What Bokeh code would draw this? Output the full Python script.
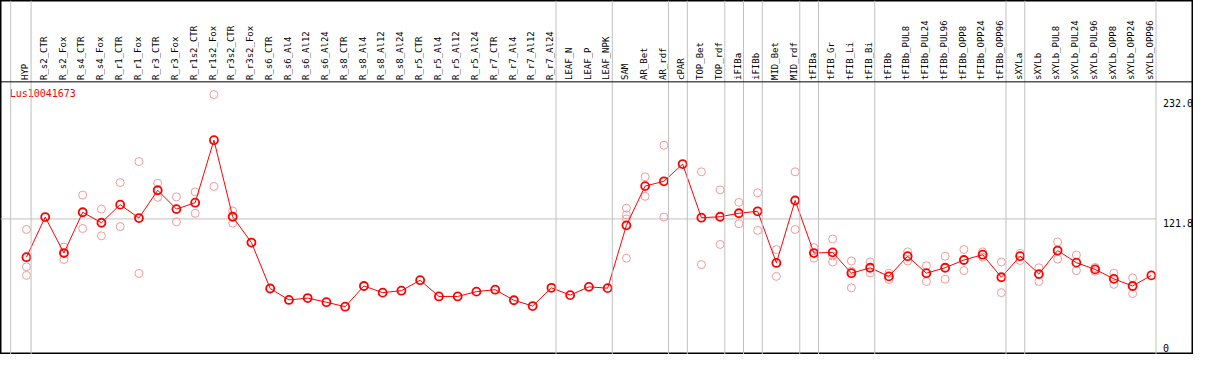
import math
from bokeh.plotting import figure
from bokeh.models import Range1d, Span, ColumnDataSource
from bokeh.core.properties import value
from bokeh.embed import file_html
from bokeh.resources import INLINE

# ---------------- data ----------------
gene_name = "Lus10041673"

categories = [
    "HYP", "R_s2_CTR", "R_s2_Fox", "R_s4_CTR", "R_s4_Fox", "R_r1_CTR", "R_r1_Fox",
    "R_r3_CTR", "R_r3_Fox", "R_r1s2_CTR", "R_r1s2_Fox", "R_r3s2_CTR", "R_r3s2_Fox",
    "R_s6_CTR", "R_s6_Al4", "R_s6_Al12", "R_s6_Al24", "R_s8_CTR", "R_s8_Al4",
    "R_s8_Al12", "R_s8_Al24", "R_r5_CTR", "R_r5_Al4", "R_r5_Al12", "R_r5_Al24",
    "R_r7_CTR", "R_r7_Al4", "R_r7_Al12", "R_r7_Al24", "LEAF_N", "LEAF_P", "LEAF_NPK",
    "SAM", "AR_Bet", "AR_rdf", "cPAR", "TOP_Bet", "TOP_rdf", "iFIBa", "iFIBb",
    "MID_Bet", "MID_rdf", "tFIBa", "tFIB_Gr", "tFIB_Li", "tFIB_Bi", "tFIBb",
    "tFIBb_PUL8", "tFIBb_PUL24", "tFIBb_PUL96", "tFIBb_OPP8", "tFIBb_OPP24",
    "tFIBb_OPP96", "sXYLa", "sXYLb", "sXYLb_PUL8", "sXYLb_PUL24", "sXYLb_PUL96",
    "sXYLb_OPP8", "sXYLb_OPP24", "sXYLb_OPP96",
]

mean_values = [
    86.7, 123.5, 90.5, 127.9, 118.3, 134.9, 122.6, 148.1, 130.8, 136.7, 194.0, 123.8, 100.1,
    58.0, 47.5, 49.2, 45.4, 41.3, 60.3, 54.2, 56.0, 65.6, 50.7, 50.7, 55.1, 56.9, 47.2,
    41.9, 58.6, 51.9, 59.5, 58.3, 115.9, 151.9, 156.3, 172.1, 122.9, 123.8, 127.0, 128.8,
    81.4, 138.7, 90.5, 91.1, 72.0, 77.0, 69.1, 87.6, 72.0, 77.0, 84.1, 89.0, 68.3, 87.6,
    71.2, 92.8, 81.7, 75.5, 66.8, 60.3, 70.0,
]

rep_categories = [
    "HYP", "HYP", "HYP", "R_s2_Fox", "R_s2_Fox", "R_s4_CTR", "R_s4_CTR", "R_s4_Fox", "R_s4_Fox",
    "R_r1_CTR", "R_r1_CTR", "R_r1_Fox", "R_r1_Fox", "R_r3_CTR", "R_r3_CTR", "R_r3_Fox", "R_r3_Fox",
    "R_r1s2_CTR", "R_r1s2_CTR", "R_r1s2_Fox", "R_r1s2_Fox", "R_r3s2_CTR", "R_r3s2_CTR",
    "SAM", "SAM", "SAM", "SAM", "AR_Bet", "AR_Bet", "AR_rdf", "AR_rdf", "TOP_Bet", "TOP_Bet",
    "TOP_rdf", "TOP_rdf", "iFIBa", "iFIBa", "iFIBb", "iFIBb", "MID_Bet", "MID_Bet",
    "MID_rdf", "MID_rdf", "tFIBa", "tFIBa", "tFIB_Gr", "tFIB_Gr", "tFIB_Gr",
    "tFIB_Li", "tFIB_Li", "tFIB_Li", "tFIB_Bi", "tFIB_Bi", "tFIBb", "tFIBb",
    "tFIBb_PUL8", "tFIBb_PUL8", "tFIBb_PUL24", "tFIBb_PUL24", "tFIBb_PUL96", "tFIBb_PUL96",
    "tFIBb_OPP8", "tFIBb_OPP8", "tFIBb_OPP24", "tFIBb_OPP24", "tFIBb_OPP96", "tFIBb_OPP96",
    "sXYLa", "sXYLa", "sXYLb", "sXYLb", "sXYLb_PUL8", "sXYLb_PUL8", "sXYLb_PUL24", "sXYLb_PUL24",
    "sXYLb_PUL96", "sXYLb_PUL96", "sXYLb_OPP8", "sXYLb_OPP8", "sXYLb_OPP24", "sXYLb_OPP24",
]
rep_values = [
    112.1, 77.9, 70.0, 96.0, 84.6, 143.7, 113.0, 130.8, 106.3,
    155.1, 114.8, 174.4, 71.8, 154.5, 141.6, 142.0, 119.1,
    146.6, 127.0, 235.9, 151.6, 129.1, 117.9,
    131.7, 125.6, 121.8, 85.8, 160.4, 142.5, 189.3, 123.5, 165.0, 79.9,
    148.4, 98.4, 137.0, 117.4, 145.7, 111.3, 93.7, 69.1,
    165.0, 112.1, 95.5, 85.8, 103.4, 87.8, 82.3,
    83.2, 58.6, 74.0, 82.3, 72.3, 72.0, 66.2,
    91.6, 83.2, 78.8, 64.4, 87.6, 66.5,
    93.7, 74.4, 91.6, 86.7, 82.3, 54.2,
    90.2, 83.7, 77.0, 64.4, 100.7, 84.9, 88.7, 74.4,
    77.3, 73.7, 72.0, 61.8, 67.7, 53.3,
]

# groups end after these categories (vertical separators)
group_ends = ["HYP", "R_r7_Al24", "LEAF_NPK", "AR_rdf", "cPAR", "TOP_rdf", "iFIBa",
              "iFIBb", "MID_rdf", "tFIBa", "tFIB_Bi", "tFIBb_OPP96", "sXYLa", "sXYLb_OPP96"]

y_ticks = [0.0, 121.8, 232.0]
y_tick_labels = ["0", "121.8", "232.0"]

# ---------------- layout / style ----------------
W, H = 1193, 354
X_START, X_END = -1.384, 62.247
Y_START, Y_END = -2.54, 322.1
HEADER_LINE = 247.5
LABEL_BASE = 249.2
SEP_OFFSET = 0.247
LEFT_LINE = -0.842
TICK_LABEL_X = 60.616
FONT = value("DejaVu Sans Mono")
GRID = "#c0c0c0"

idx = {c: i for i, c in enumerate(categories)}

p = figure(width=W, height=H, output_backend="svg", toolbar_location=None,
           x_range=Range1d(X_START, X_END), y_range=Range1d(Y_START, Y_END),
           x_axis_location=None, y_axis_location=None, min_border=0,
           background_fill_color="white", border_fill_color="white")
p.grid.visible = False
p.outline_line_color = "black"
p.outline_line_width = 2

# vertical separators (full height)
for c in group_ends:
    p.add_layout(Span(location=idx[c] + SEP_OFFSET, dimension="height",
                      line_color=GRID, line_width=1))
p.add_layout(Span(location=LEFT_LINE, dimension="height", line_color=GRID, line_width=1))

# horizontal mid grid line
p.segment(x0=[X_START], y0=[y_ticks[1]], x1=[idx[group_ends[-1]] + SEP_OFFSET],
          y1=[y_ticks[1]], line_color=GRID, line_width=1)

# header separator
p.add_layout(Span(location=HEADER_LINE, dimension="width", line_color="black", line_width=1))

# header category labels
p.text(x=[i - 0.07 for i in range(len(categories))], y=[LABEL_BASE] * len(categories),
       text=categories, angle=math.pi / 2, text_align="left", text_baseline="middle",
       text_font=FONT, text_font_size="9px", text_color="black")

# gene name
p.text(x=[-0.895], y=[237.2], text=[gene_name], text_align="left", text_baseline="middle",
       text_font=FONT, text_font_size="10px", text_color="red")

# y tick labels
top_t = [(t, l) for t, l in zip(y_ticks, y_tick_labels) if t > 0]
bot_t = [(t, l) for t, l in zip(y_ticks, y_tick_labels) if t <= 0]
p.text(x=[TICK_LABEL_X] * len(top_t), y=[t for t, _ in top_t], text=[l for _, l in top_t],
       text_align="left", text_baseline="top", text_font=FONT, text_font_size="10px",
       text_color="black")
p.text(x=[TICK_LABEL_X] * len(bot_t), y=[t for t, _ in bot_t], text=[l for _, l in bot_t],
       text_align="left", text_baseline="bottom", text_font=FONT, text_font_size="10px",
       text_color="black")

# replicates
rep_src = ColumnDataSource(dict(x=[idx[c] for c in rep_categories], y=rep_values))
p.scatter(x="x", y="y", source=rep_src, marker="circle", size=8, fill_color=None,
          line_color="#f29a9a", line_width=1)

# mean line and markers
mean_src = ColumnDataSource(dict(x=list(range(len(categories))), y=mean_values))
p.line(x="x", y="y", source=mean_src, line_color="red", line_width=1)
p.scatter(x="x", y="y", source=mean_src, marker="circle", size=8, fill_color=None,
          line_color="red", line_width=1.8)

open("out.html", "w").write(file_html(p, INLINE))
